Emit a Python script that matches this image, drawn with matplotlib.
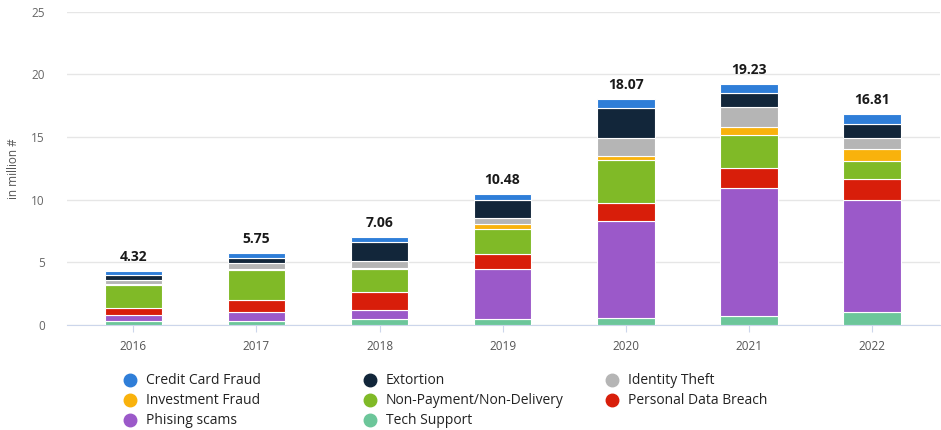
import matplotlib
matplotlib.use("Agg")
import matplotlib.pyplot as plt
import numpy as np

years = ["2016", "2017", "2018", "2019", "2020", "2021", "2022"]
totals = [4.32, 5.75, 7.06, 10.48, 18.07, 19.23, 16.81]

# Stacked from the bottom up
tech_support = [0.32, 0.35, 0.50, 0.44, 0.58, 0.72, 1.02]
phishing = [0.46, 0.70, 0.70, 4.01, 7.69, 10.18, 8.92]
personal_data = [0.58, 0.96, 1.43, 1.23, 1.44, 1.62, 1.68]
non_payment = [1.84, 2.36, 1.87, 2.00, 3.47, 2.62, 1.49]
investment = [0.05, 0.06, 0.05, 0.36, 0.32, 0.66, 0.95]
identity_theft = [0.38, 0.50, 0.53, 0.46, 1.45, 1.56, 0.84]
extortion = [0.36, 0.40, 1.52, 1.48, 2.40, 1.18, 1.14]
credit_card = [0.33, 0.42, 0.46, 0.50, 0.72, 0.69, 0.77]

stack = [
    ("Tech Support", tech_support, "#6cc69a"),
    ("Phising scams", phishing, "#9b59c9"),
    ("Personal Data Breach", personal_data, "#d81e0a"),
    ("Non-Payment/Non-Delivery", non_payment, "#80ba27"),
    ("Investment Fraud", investment, "#f9b20c"),
    ("Identity Theft", identity_theft, "#b5b5b5"),
    ("Extortion", extortion, "#12263a"),
    ("Credit Card Fraud", credit_card, "#2f7ed8"),
]

legend_order = [
    "Credit Card Fraud", "Extortion", "Identity Theft",
    "Investment Fraud", "Non-Payment/Non-Delivery", "Personal Data Breach",
    "Phising scams", "Tech Support",
]

plt.rcParams["font.family"] = ["Open Sans", "DejaVu Sans"]

W, H = 941, 430
fig = plt.figure(figsize=(W / 100, H / 100), dpi=100)
ax = fig.add_axes([67 / W, 1 - 325 / H, (940 - 67) / W, (325 - 11.7) / H])

x = np.arange(len(years))
bottom = np.zeros(len(years))
for name, vals, color in stack:
    ax.bar(x, vals, width=0.47, bottom=bottom, color=color,
           edgecolor="white", linewidth=0.8, label=name, zorder=3)
    bottom += np.array(vals)

for xi, t in zip(x, totals):
    ax.annotate(f"{t:.2f}", (xi, t), xytext=(0, 5), textcoords="offset points",
                ha="center", va="bottom", fontsize=10, fontweight="bold",
                color="#1a1a1a")

ax.set_xlim(-0.54, 6.555)
ax.set_ylim(0, 25)
ax.set_yticks([0, 5, 10, 15, 20, 25])
ax.set_xticks(x)
ax.set_xticklabels(years)
ax.yaxis.grid(True, color="#e6e6e6", linewidth=1, zorder=0)
ax.set_axisbelow(True)
for side in ("top", "right", "left"):
    ax.spines[side].set_visible(False)
ax.spines["bottom"].set_color("#ccd6eb")
ax.tick_params(axis="y", length=0, pad=16, labelsize=8.5, labelcolor="#666666")
ax.tick_params(axis="x", length=5, color="#ccd6eb", pad=6, labelsize=8.5,
               labelcolor="#555555")
ax.set_ylabel("in million #", fontsize=8.5, color="#555555", labelpad=8)

# Legend laid out in a 3-column grid
colors = {name: color for name, _, color in stack}
col_x = [130, 370, 612]
row_y = [380, 400, 420]
for i, name in enumerate(legend_order):
    cx = col_x[i % 3]
    cy = row_y[i // 3]
    fig.lines.append(plt.Line2D([cx / W], [1 - cy / H], marker="o", markersize=9,
                                color=colors[name], linestyle="none",
                                transform=fig.transFigure))
    fig.text((cx + 16) / W, 1 - cy / H, name, fontsize=10, color="#222222",
             fontweight="medium", va="center", ha="left")

fig.savefig("out.png", dpi=100, facecolor="white")
